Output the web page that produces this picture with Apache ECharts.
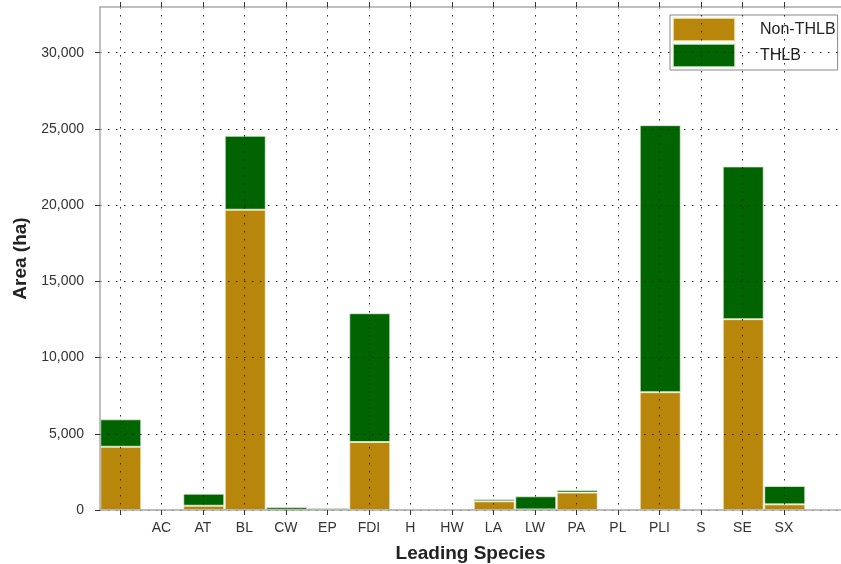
<!DOCTYPE html>
<html>
<head>
<meta charset="utf-8">
<script src="https://cdn.jsdelivr.net/npm/echarts@6/dist/echarts.min.js"></script>
<style>
  html, body { margin: 0; padding: 0; background: #fff; }
  #chart { width: 841px; height: 564px; }
</style>
</head>
<body>
<div id="chart"></div>
<script>
// leading species (first one has no label in the source)
const categories = ['', 'AC', 'AT', 'BL', 'CW', 'EP', 'FDI', 'H', 'HW', 'LA', 'LW', 'PA', 'PL', 'PLI', 'S', 'SE', 'SX']
const nonThlb = [4150, 10, 280, 19700, 20, 10, 4460, 10, 10, 570, 40, 1140, 10, 7730, 10, 12520, 370]
const thlb = [1800, 10, 790, 4850, 180, 120, 8450, 10, 10, 150, 860, 170, 10, 17520, 10, 10020, 1205]
const yTicks = [0, 5000, 10000, 15000, 20000, 25000, 30000]

const font = 'Liberation Sans, Arial, sans-serif'
const tickIdx = categories.map((c, i) => i)
const gridDots = { color: '#222', width: 1, type: [1.5, 6.5] }
const frameLine = { show: true, onZero: false, lineStyle: { color: '#aaa', width: 1.5 } }

const chart = echarts.init(document.getElementById('chart'))

const option = {
  animation: false,
  textStyle: { fontFamily: font },
  // grid 0 holds the bars (17 bands of ~41.5px), grid 1 the frame/ticks/gridlines
  grid: [
    { left: 100, width: 705.5, top: 7, bottom: 54, outerBoundsMode: 'none', containLabel: false },
    { left: 100, right: 0, top: 7, bottom: 54, outerBoundsMode: 'none', containLabel: false }
  ],
  legend: {
    orient: 'vertical',
    left: 670,
    top: 15,
    itemWidth: 62,
    itemHeight: 23,
    itemGap: 1,
    padding: [2, 2, 2, 2],
    borderColor: '#888',
    borderWidth: 1,
    borderRadius: 0,
    icon: 'rect',
    textStyle: { fontSize: 16, color: '#222', fontFamily: font, padding: [0, 0, 0, 20] },
    data: ['Non-THLB', 'THLB']
  },
  xAxis: [{
    gridIndex: 0,
    type: 'category',
    data: categories,
    show: false
  }, {
    gridIndex: 1,
    type: 'value',
    min: -0.48,
    max: 17.375,
    z: 5,
    name: 'Leading Species',
    nameLocation: 'middle',
    nameGap: 34,
    nameTextStyle: { fontSize: 19, fontWeight: 'bold', color: '#222', fontFamily: font },
    axisLine: frameLine,
    axisTick: { show: true, length: 5, customValues: tickIdx, lineStyle: { color: '#333' } },
    axisLabel: {
      customValues: tickIdx,
      margin: 11,
      fontSize: 14,
      color: '#333',
      fontFamily: font,
      formatter: v => categories[Math.round(v)] || ''
    },
    splitLine: { show: true, lineStyle: gridDots }
  }, {
    gridIndex: 1,
    type: 'value',
    position: 'top',
    min: -0.48,
    max: 17.375,
    z: 5,
    axisLine: frameLine,
    axisTick: { show: true, length: 5, customValues: tickIdx, lineStyle: { color: '#333' } },
    axisLabel: { show: false },
    splitLine: { show: false }
  }],
  yAxis: [{
    gridIndex: 0,
    type: 'value',
    min: 0,
    max: 33000,
    show: false
  }, {
    gridIndex: 1,
    type: 'value',
    min: 0,
    max: 33000,
    z: 5,
    name: 'Area (ha)',
    nameLocation: 'middle',
    nameGap: 70,
    nameTextStyle: { fontSize: 19, fontWeight: 'bold', color: '#222', fontFamily: font },
    axisLine: frameLine,
    axisTick: { show: true, length: 5, customValues: yTicks, lineStyle: { color: '#333' } },
    axisLabel: {
      customValues: yTicks,
      margin: 16,
      fontSize: 14,
      color: '#333',
      fontFamily: font,
      formatter: v => v.toLocaleString('en-US')
    },
    splitLine: { show: true, lineStyle: gridDots }
  }],
  series: [{
    name: 'Non-THLB',
    type: 'bar',
    stack: 'area',
    xAxisIndex: 0,
    yAxisIndex: 0,
    barWidth: 41,
    itemStyle: { color: '#B8860B', borderColor: 'rgba(250,245,220,0.7)', borderWidth: 1 },
    data: nonThlb
  }, {
    name: 'THLB',
    type: 'bar',
    stack: 'area',
    xAxisIndex: 0,
    yAxisIndex: 0,
    barWidth: 41,
    itemStyle: { color: '#006400', borderColor: 'rgba(235,245,225,0.7)', borderWidth: 1 },
    data: thlb
  }]
}

chart.setOption(option)
</script>
</body>
</html>
